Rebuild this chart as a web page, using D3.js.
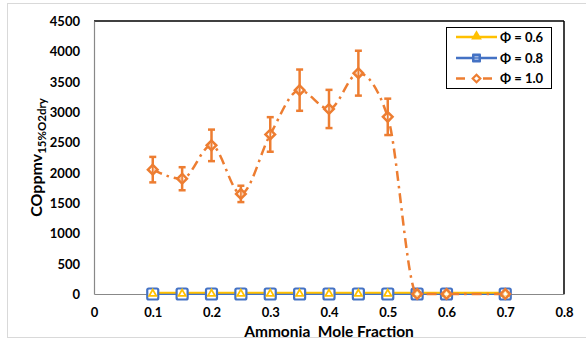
<!DOCTYPE html>
<html><head><meta charset="utf-8">
<script src="https://cdn.jsdelivr.net/npm/d3@7"></script>
<style>
html,body{margin:0;padding:0;background:#fff;}
svg text{font-family:Lato,"Open Sans",sans-serif;font-weight:bold;fill:#000;}
</style></head>
<body>
<svg id="c" width="586" height="341"></svg>
<script>
const xValues = [0.1,0.15,0.2,0.25,0.3,0.35,0.4,0.45,0.5,0.55,0.6,0.7];
const phi06 = [20,20,20,20,20,20,20,20,20,20,20,20];
const phi08 = [0,0,0,0,0,0,0,0,0,0,0,0];
const phi10 = [2050,1900,2450,1650,2630,3360,3050,3640,2920,0,0,0];
const phi10Err = [210,190,260,135,285,340,315,370,300,0,0,0];
const xTicks = [0,0.1,0.2,0.3,0.4,0.5,0.6,0.7,0.8];
const yTicks = [0,500,1000,1500,2000,2500,3000,3500,4000,4500];
const seriesNames = ["Φ = 0.6","Φ = 0.8","Φ = 1.0"];

const svg = d3.select("#c");
const L=94,R=564,T=21,B=294;
const x = d3.scaleLinear().domain([0,0.8]).range([L,R]);
const y = d3.scaleLinear().domain([0,4500]).range([B,T]);
const YEL="#FFC000", BLU="#4472C4", ORA="#ED7D31";

// outer border
svg.append("rect").attr("x",7.5).attr("y",3.5).attr("width",590).attr("height",334).attr("fill","none").attr("stroke","#d9d9d9").attr("stroke-width",1);

// frame
svg.append("line").attr("x1",L).attr("x2",R).attr("y1",T).attr("y2",T).attr("stroke","#000").attr("stroke-width",1.5);
svg.append("line").attr("x1",R).attr("x2",R).attr("y1",T).attr("y2",B).attr("stroke","#000").attr("stroke-width",1.5);

// axes
const xAxis = d3.axisBottom(x).tickValues(xTicks).tickSize(0).tickFormat(d=>d===0?"0":d3.format(".1f")(d));
const gx = svg.append("g").attr("transform",`translate(0,${B})`).call(xAxis);
gx.select(".domain").attr("stroke","#888").attr("stroke-width",1.2);
gx.selectAll("text").attr("font-size",13).attr("dy",0).attr("y",23);

const yAxis = d3.axisLeft(y).tickValues(yTicks).tickSize(0).tickFormat(d3.format("d"));
const gy = svg.append("g").attr("transform",`translate(${L},0)`).call(yAxis);
gy.select(".domain").attr("stroke","#888").attr("stroke-width",1.2);
gy.selectAll("text").attr("font-size",13).attr("x",-14).attr("dy","0.35em");

// titles
svg.append("text").attr("x",(L+R)/2).attr("y",337).attr("text-anchor","middle").attr("font-size",15.5)
  .attr("xml:space","preserve").text("Ammonia  Mole Fraction");
const yt = svg.append("text").attr("transform",`translate(42,${(T+B)/2}) rotate(-90)`).attr("text-anchor","middle");
yt.append("tspan").attr("font-size",16).text("COppmv");
yt.append("tspan").attr("font-size",11.5).attr("dy",4).text("15%O2dry");

const pts = (vals)=>xValues.map((v,i)=>[v,vals[i]]);
const lineSmooth = d3.line().x(d=>x(d[0])).y(d=>y(d[1])).curve(d3.curveMonotoneX);
const lineStraight = d3.line().x(d=>x(d[0])).y(d=>y(d[1]));

// blue line, yellow line
svg.append("path").attr("d",lineStraight(pts(phi08))).attr("fill","none").attr("stroke",BLU).attr("stroke-width",2.2);
svg.append("path").attr("d",lineStraight(pts(phi06))).attr("fill","none").attr("stroke",YEL).attr("stroke-width",2);

// blue squares
svg.append("g").selectAll("rect").data(pts(phi08)).join("rect")
  .attr("x",d=>x(d[0])-5.5).attr("y",d=>y(d[1])-5.5).attr("width",11).attr("height",11).attr("rx",1.5)
  .attr("fill","#fff").attr("stroke",BLU).attr("stroke-width",2.2);
// yellow triangles (small, inside)
const tri = d3.symbol().type(d3.symbolTriangle).size(22);
svg.append("g").selectAll("path").data(pts(phi06)).join("path")
  .attr("transform",d=>`translate(${x(d[0])},${y(d[1])+1})`).attr("d",tri())
  .attr("fill","#fff").attr("stroke",YEL).attr("stroke-width",1.8);

// orange
svg.append("path").attr("d",lineSmooth(pts(phi10))).attr("fill","none").attr("stroke",ORA).attr("stroke-width",2.5)
  .attr("stroke-dasharray","10,5,2.5,5");
const eb = svg.append("g").attr("stroke",ORA).attr("stroke-width",2.5);
xValues.forEach((v,i)=>{
  if(phi10Err[i]<=0) return;
  const cx=x(v), y1=y(phi10[i]+phi10Err[i]), y2=y(phi10[i]-phi10Err[i]);
  eb.append("line").attr("x1",cx).attr("x2",cx).attr("y1",y1).attr("y2",y2);
  eb.append("line").attr("x1",cx-3.5).attr("x2",cx+3.5).attr("y1",y1).attr("y2",y1);
  eb.append("line").attr("x1",cx-3.5).attr("x2",cx+3.5).attr("y1",y2).attr("y2",y2);
});
const dia = (cx,cy,r)=>`M${cx},${cy-r}L${cx+r},${cy}L${cx},${cy+r}L${cx-r},${cy}Z`;
svg.append("g").selectAll("path").data(pts(phi10)).join("path")
  .attr("d",d=>dia(x(d[0]),y(d[1]),4.8)).attr("fill","#fff").attr("fill-opacity",0.6)
  .attr("stroke",ORA).attr("stroke-width",2.5);
xValues.forEach((v,i)=>{
  if(phi10Err[i]<=0) return;
  svg.append("line").attr("x1",x(v)).attr("x2",x(v)).attr("y1",y(phi10[i])-3).attr("y2",y(phi10[i])+3).attr("stroke",ORA).attr("stroke-width",1.5);
});

// legend
const lg = svg.append("g");
lg.append("rect").attr("x",446.5).attr("y",27.5).attr("width",105).attr("height",61).attr("fill","#fff").attr("stroke","#000").attr("stroke-width",1);
const rows=[37,58,78.5];
lg.append("line").attr("x1",456).attr("x2",497).attr("y1",rows[0]).attr("y2",rows[0]).attr("stroke",YEL).attr("stroke-width",2.5);
lg.append("path").attr("transform",`translate(476.5,${rows[0]-0.5})`).attr("d",d3.symbol().type(d3.symbolTriangle).size(50)()).attr("fill",YEL);
lg.append("line").attr("x1",456).attr("x2",497).attr("y1",rows[1]).attr("y2",rows[1]).attr("stroke",BLU).attr("stroke-width",2.5);
lg.append("rect").attr("x",472).attr("y",rows[1]-4.5).attr("width",9).attr("height",9).attr("rx",1).attr("fill",BLU);
lg.append("line").attr("x1",474.5).attr("x2",478.5).attr("y1",rows[1]-1.2).attr("y2",rows[1]-1.2).attr("stroke","#c9d6ef").attr("stroke-width",1);
lg.append("line").attr("x1",474.5).attr("x2",478.5).attr("y1",rows[1]+1.2).attr("y2",rows[1]+1.2).attr("stroke","#c9d6ef").attr("stroke-width",1);
lg.append("line").attr("x1",456).attr("x2",497).attr("y1",rows[2]).attr("y2",rows[2]).attr("stroke",ORA).attr("stroke-width",2.5).attr("stroke-dasharray","9,5,0,13,9");
lg.append("path").attr("d",dia(476.5,rows[2],3.8)).attr("fill","#fff").attr("stroke",ORA).attr("stroke-width",2.2);
seriesNames.forEach((n,i)=>{
  lg.append("text").attr("x",500).attr("y",rows[i]).attr("dy","0.36em").attr("font-size",13).text(n);
});
</script>
</body></html>
